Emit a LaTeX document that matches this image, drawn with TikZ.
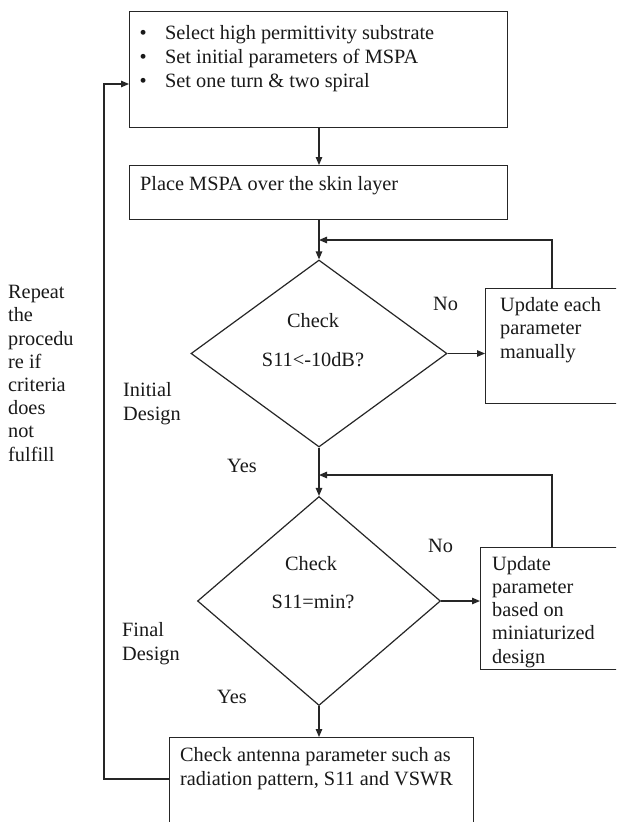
\documentclass[tikz,border=0pt]{standalone}
\usepackage{fontspec}
\setmainfont{Liberation Serif}
\usetikzlibrary{shapes.geometric,arrows.meta}
\begin{document}
\begin{tikzpicture}[x=1pt,y=-1pt,
 line/.style={draw=black!85, line width=1.2pt},
 arr/.style={line, -{Triangle[length=8pt,width=6.5pt]}},
 box/.style={draw=black!85, line width=1.2pt, anchor=north west, inner sep=0pt},
 dia/.style={draw=black!85, line width=1.2pt, diamond, inner sep=0pt},
 txt/.style={anchor=base west, inner sep=0pt, align=left, font=\fontsize{20.3}{23.2}\selectfont, text=black!90}
]
\useasboundingbox (0,0) rectangle (616,822);
\clip (0,0) rectangle (616,822);
\fill[white] (0,0) rectangle (616,822);

% boxes
\node[box, minimum width=378pt, minimum height=116pt] (b1) at (129,11) {};
\node[box, minimum width=378pt, minimum height=54pt] (b2) at (129,165) {};
\node[box, minimum width=140pt, minimum height=115pt] (u1) at (485,288) {};
\node[box, minimum width=140pt, minimum height=122pt] (u2) at (480,547) {};
\node[box, minimum width=304pt, minimum height=100pt] (b4) at (169,737) {};
% diamonds
\node[dia, minimum width=256pt, minimum height=187pt] (d1) at (319,353.5) {};
\node[dia, minimum width=243pt, minimum height=209pt] (d2) at (319,601) {};

% texts (base = baseline of the last line)
\node[txt, font=\fontsize{20.3}{24}\selectfont] (t1) at (139.5,87) {\makebox[25.5pt][l]{•}Select high permittivity substrate\\\makebox[25.5pt][l]{•}Set initial parameters of MSPA\\\makebox[25.5pt][l]{•}Set one turn \& two spiral};
\node[txt] (t2) at (140,190) {Place MSPA over the skin layer};
\node[txt, anchor=base] (c1) at (313,327) {Check};
\node[txt, anchor=base] (s1) at (313,366) {S11<-10dB?};
\node[txt] (n1) at (433,310) {No};
\node[txt, font=\fontsize{20.3}{23.5}\selectfont] (t3) at (500,358) {Update each\\parameter\\manually};
\node[txt] (id) at (123,420) {Initial\\Design};
\node[txt] (y1) at (227,472) {Yes};
\node[txt] (rp) at (8,461) {Repeat\\the\\procedu\\re if\\criteria\\does\\not\\fulfill};
\node[txt, anchor=base] (c2) at (311,570) {Check};
\node[txt, anchor=base] (s2) at (313,608) {S11=min?};
\node[txt] (n2) at (428,552) {No};
\node[txt] (t4) at (492,663) {Update\\parameter\\based on\\miniaturized\\design};
\node[txt] (fd) at (122,660) {Final\\Design};
\node[txt] (y2) at (217,703) {Yes};
\node[txt, font=\fontsize{20.3}{24}\selectfont] (t5) at (180,785) {Check antenna parameter such as\\radiation pattern, S11 and VSWR};

% connectors
\draw[arr] (b1.south -| d1.north) -- (b2.north -| d1.north);
\draw[arr] (b2.south -| d1.north) -- (d1.north);
\coordinate (f1) at (552,240);
\draw[arr] (u1.north -| f1) -- (f1) -- (f1 -| d1.north);
\draw[arr] (d1.east) -- (d1.east -| u1.west);
\draw[arr] (d1.south) -- (d2.north);
\coordinate (f2) at (552,475);
\draw[arr] (u2.north -| f2) -- (f2) -- (f2 -| d2.north);
\draw[arr] (d2.east) -- (d2.east -| u2.west);
\draw[arr] (d2.south) -- (b4.north -| d2.south);
\coordinate (lp) at (104,779);
\coordinate (lq) at (104,84);
\draw[arr] (lp -| b4.west) -- (lp) -- (lq) -- (lq -| b1.west);
\end{tikzpicture}
\end{document}
